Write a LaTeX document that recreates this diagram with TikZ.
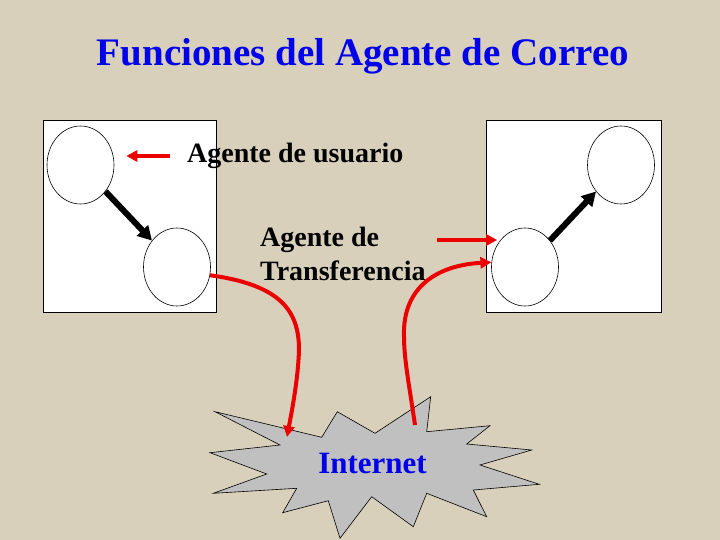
\documentclass[tikz,border=0pt]{standalone}
\usepackage{fontspec}
\setmainfont{Liberation Serif}
\usetikzlibrary{shapes.geometric,arrows.meta}
\definecolor{bgbeige}{RGB}{217,208,188}
\definecolor{titleblue}{RGB}{0,0,235}
\definecolor{arrowred}{RGB}{235,0,0}
\definecolor{stargray}{RGB}{192,192,192}
\tikzset{
  panel/.style={draw=black, line width=0.8pt, fill=white},
  agent/.style={ellipse, draw=black, line width=0.6pt, fill=white, inner sep=0pt, minimum width=67pt, minimum height=78pt},
  redarrow/.style={draw=arrowred, line width=4pt, -{Triangle[length=11pt,width=11pt]}},
  blackarrow/.style={draw=black, line width=6pt, -{Triangle[length=14pt,width=15pt]}},
  lbl/.style={font=\bfseries\fontsize{28}{33}\selectfont, text=black, inner sep=0pt},
}
\begin{document}
\begin{tikzpicture}[x=1pt,y=-1pt]
\useasboundingbox (0,0) rectangle (720,540);
\fill[bgbeige] (0,0) rectangle (720,540);
% title
\node[anchor=base, font=\bfseries\fontsize{39}{42}\selectfont, text=titleblue, inner sep=0pt] (title) at (363,66) {Funciones del Agente de Correo};
% panels
\draw[panel] (43,120) rectangle (216,312);
\draw[panel] (486,120) rectangle (661,312);
% ellipses
\node[agent] (e1) at (80.5,165) {};
\node[agent] (e2) at (177,267) {};
\node[agent] (e3) at (621,165) {};
\node[agent] (e4) at (525,267) {};
% labels
\node[lbl, anchor=base west] (ua) at (187,163) {Agente de usuario};
\node[lbl, anchor=base west] (ta1) at (260,247) {Agente de};
\node[lbl, anchor=base west] (ta2) at (260,280) {Transferencia};
% star
\filldraw[fill=stargray, draw=black, line width=0.6pt]
 (215,411.7) -- (321.7,437.3) -- (337.3,411.7) -- (375,433.3) -- (430.7,396.7) -- (426.7,431.7)
 -- (490,425.7) -- (466.7,444) -- (531.7,450) -- (480,465) -- (539.3,484.3) -- (473.3,490)
 -- (486.7,516.7) -- (426.7,493.3) -- (413.3,526.7) -- (371.7,496.7) -- (340,538.3) -- (328.3,500.7)
 -- (282.7,512.7) -- (296.7,488.3) -- (213.3,493.3) -- (266.7,474) -- (210,452.7) -- (280,445) -- cycle;
\node[anchor=base, font=\bfseries\fontsize{31}{34}\selectfont, text=titleblue, inner sep=0pt] (inet) at (372.5,473) {Internet};
\coordinate (sin) at (287,437);
\coordinate (sout) at (415,425);
\coordinate (tin) at (437,240);
% arrows
\draw[redarrow, shorten <=17pt, shorten >=12pt] (ua.west |- 0,156) -- (e1.east |- 0,156);
\draw[blackarrow] (e1) -- (e2);
\draw[blackarrow] (e4) -- (e3);
\draw[redarrow, shorten >=-6pt] (tin) -- (tin -| e4.west);
\draw[redarrow] (e2.-14) .. controls (280,285) and (299,310) .. (299,350) .. controls (298,380) and (292,410) .. (sin);
\draw[redarrow] (sout) .. controls (410,390) and (404,360) .. (404,337) .. controls (402,285) and (440,265) .. (e4.172);
\end{tikzpicture}
\end{document}
